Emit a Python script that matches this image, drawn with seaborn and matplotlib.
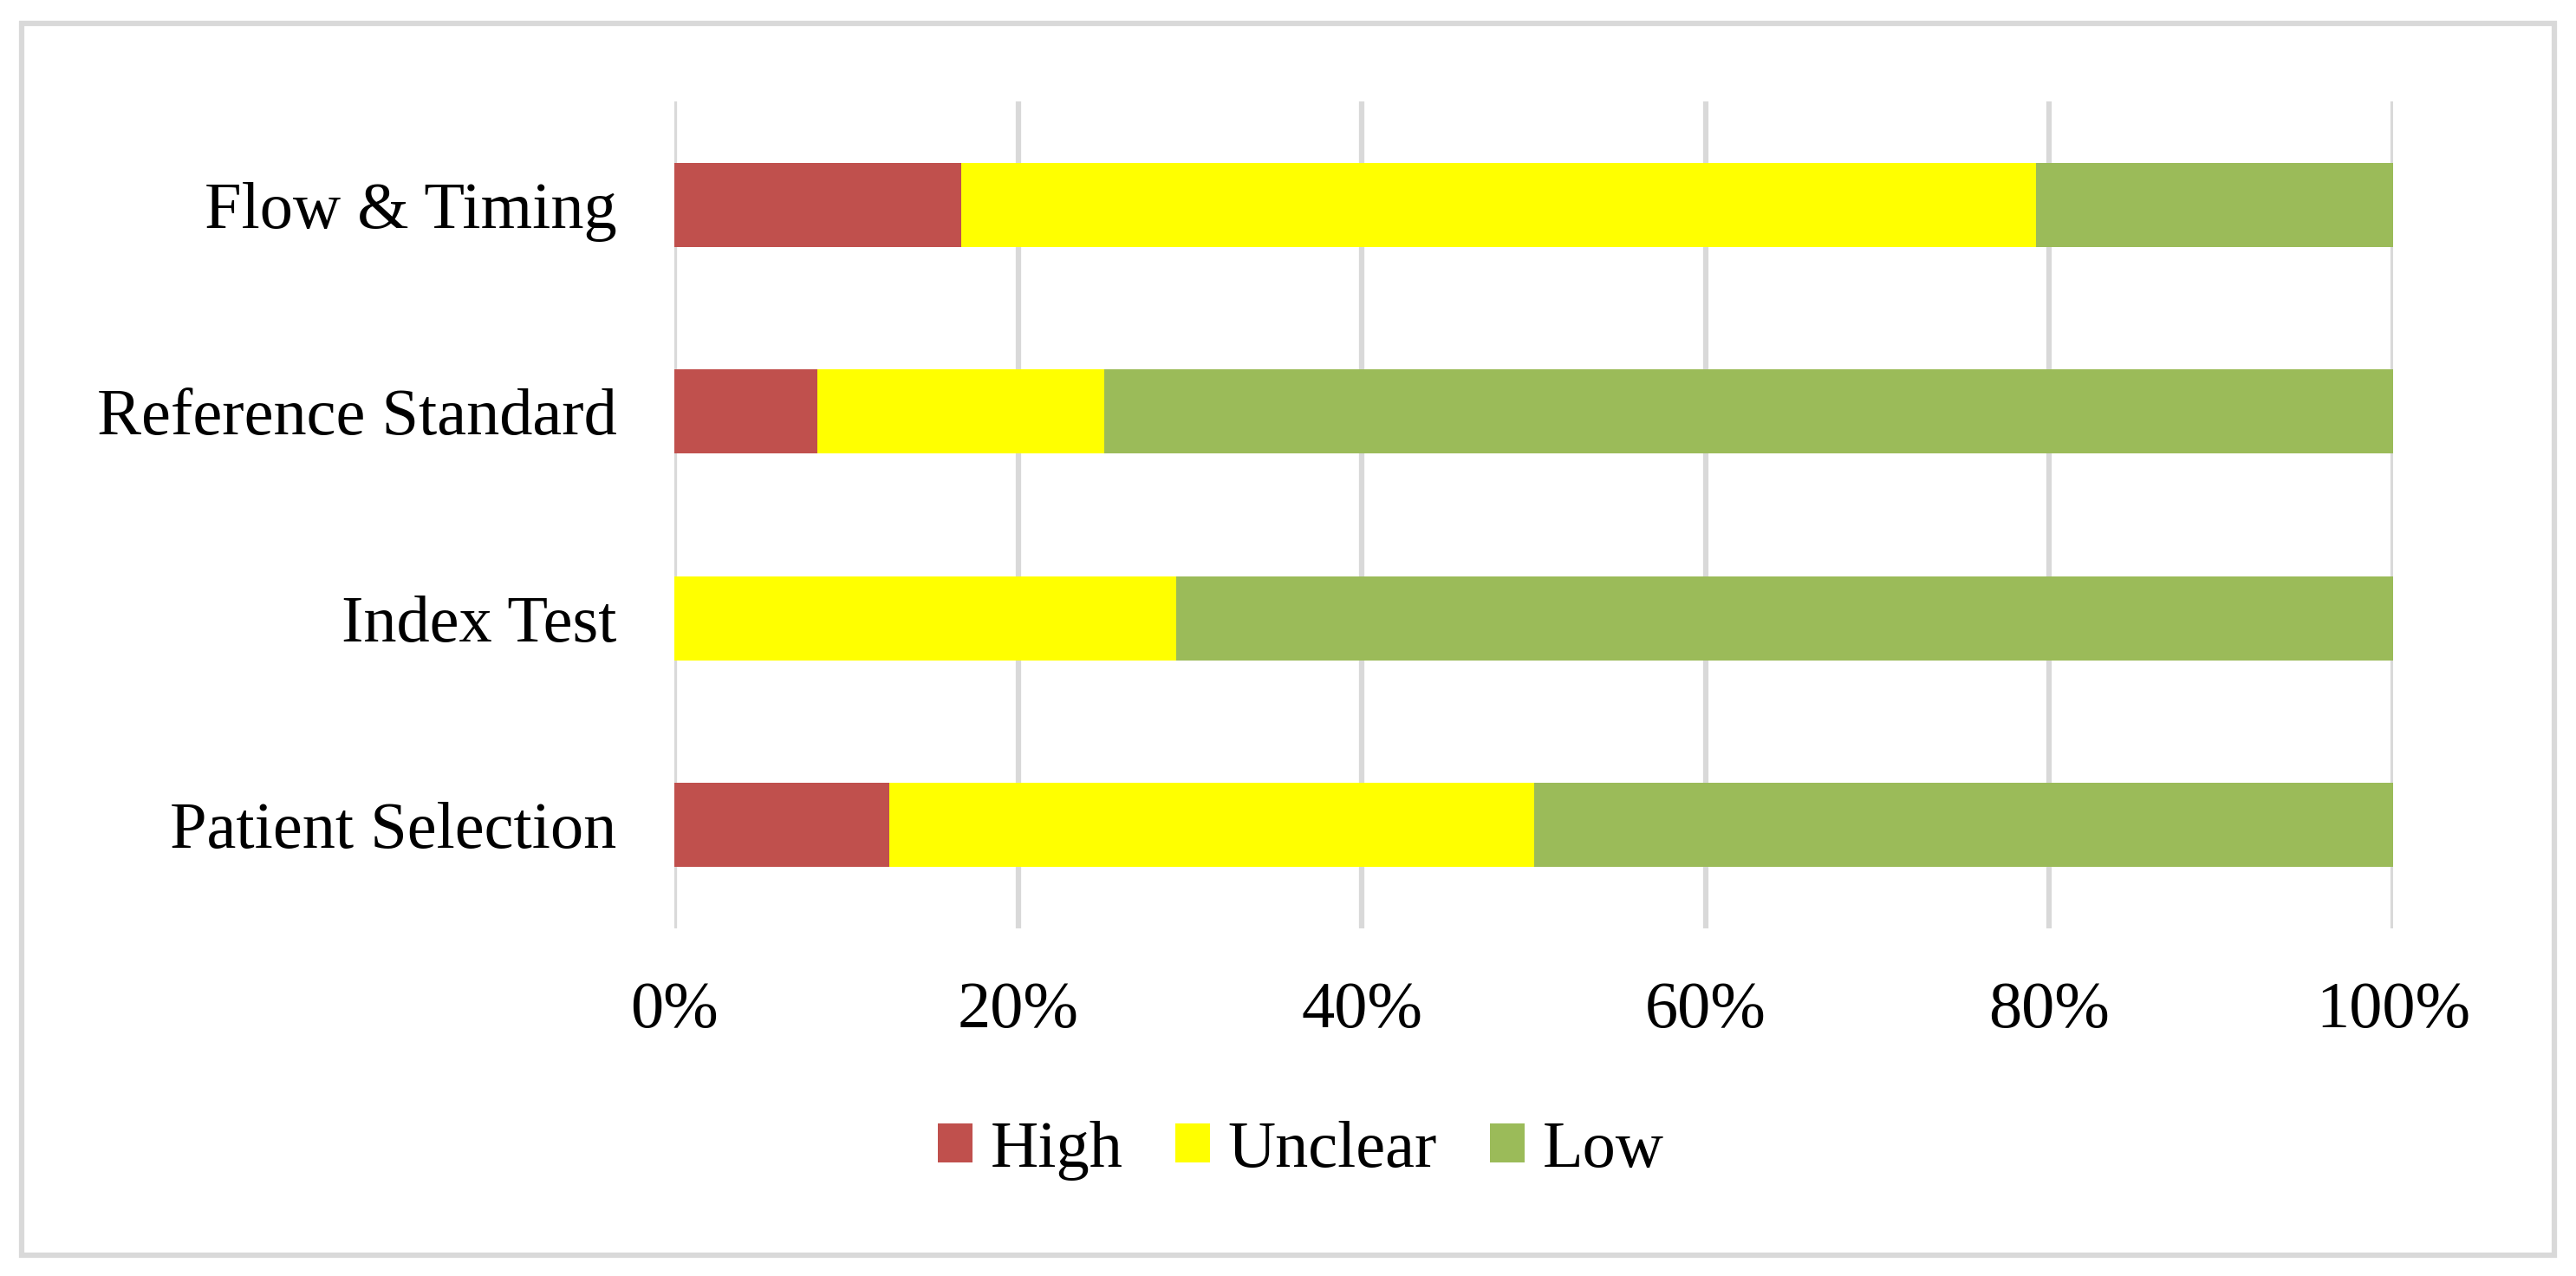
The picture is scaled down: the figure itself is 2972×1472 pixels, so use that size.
import seaborn as sns
import pandas as pd
import matplotlib.pyplot as plt
from matplotlib.patches import Rectangle, Patch

# domains, top to bottom as drawn
domains = ['Flow & Timing', 'Reference Standard', 'Index Test', 'Patient Selection']
high = [16.7, 8.3, 0.0, 12.5]
unclear = [62.5, 16.7, 29.2, 37.5]
low = [20.8, 75.0, 70.8, 50.0]
xticks = [0, 20, 40, 60, 80, 100]
xlabels = ['0%', '20%', '40%', '60%', '80%', '100%']

colors = {'High': '#C0504D', 'Unclear': '#FFFF00', 'Low': '#9BBB59'}

df = pd.DataFrame({'domain': domains, 'High': high, 'Unclear': unclear, 'Low': low})
df['c_high'] = df['High']
df['c_unclear'] = df['High'] + df['Unclear']
df['c_low'] = df['c_unclear'] + df['Low']

sns.set_theme(style='white')
plt.rcParams['font.family'] = ['Liberation Serif', 'DejaVu Serif']
plt.rcParams['text.color'] = 'black'

fig = plt.figure(figsize=(29.72, 14.72), dpi=100)
ax = fig.add_axes([0.2618, 0.2724, 0.6672, 0.6481])

# stacked bars: draw cumulative totals back to front
for col, key in [('c_low', 'Low'), ('c_unclear', 'Unclear'), ('c_high', 'High')]:
    sns.barplot(data=df, y='domain', x=col, order=domains, orient='h',
                color=colors[key], saturation=1, width=0.405, ax=ax,
                linewidth=0, zorder=3)

ax.set_xlim(0, 100)
ax.set_ylim(3.5, -0.5)
ax.set_xticks(xticks)
ax.set_xticklabels(xlabels)
ax.set_xlabel('')
ax.set_ylabel('')
ax.grid(axis='x', color='#D9D9D9', linewidth=4.5, zorder=0)
ax.grid(axis='y', visible=False)
ax.set_axisbelow(True)
for s in ax.spines.values():
    s.set_visible(False)
ax.tick_params(axis='x', length=0, pad=44, labelsize=55, colors='black')
ax.tick_params(axis='y', length=0, pad=48, labelsize=55, colors='black')

handles = [Patch(facecolor=colors[k], edgecolor='none', label=k) for k in ['High', 'Unclear', 'Low']]
leg = fig.legend(handles=handles, loc='center', bbox_to_anchor=(0.505, 0.0985), ncol=3,
                 frameon=False, fontsize=55, handlelength=0.52, handleheight=0.52,
                 handletextpad=0.27, columnspacing=0.8)
for t in leg.get_texts():
    t.set_color('black')

# outer chart border
fig.patches.append(Rectangle((25 / 2972, 1 - 1448 / 1472), 2922 / 2972, 1421 / 1472,
                             transform=fig.transFigure, fill=False,
                             edgecolor='#D9D9D9', linewidth=4.5))

fig.savefig('out.png', dpi=100)
